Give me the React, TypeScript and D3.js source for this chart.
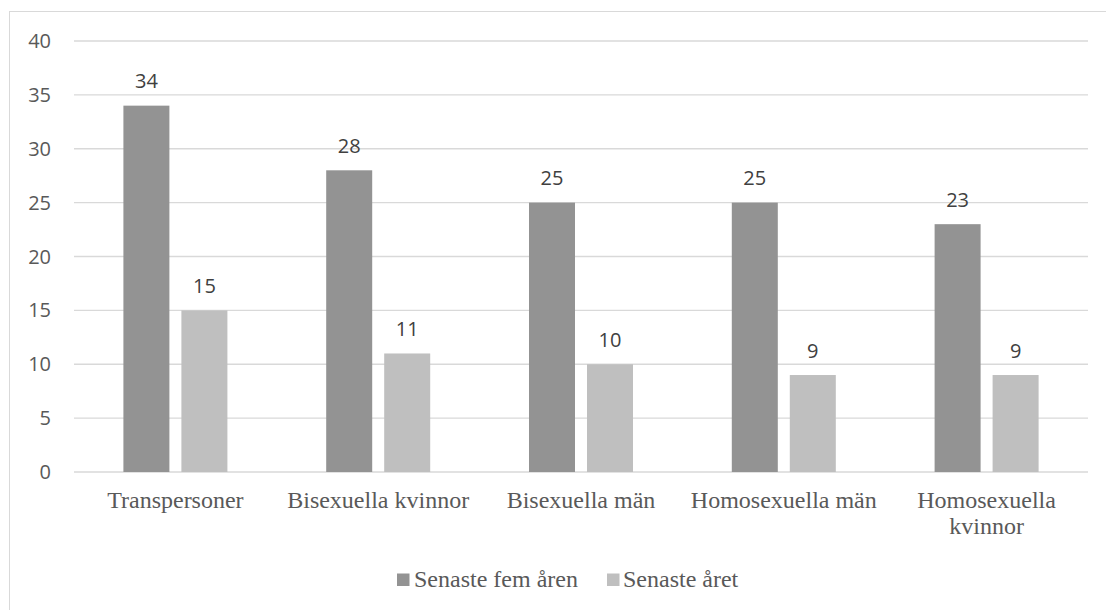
import React from "react";
import * as d3 from "d3";

const categories: string[][] = [
  ["Transpersoner"],
  ["Bisexuella kvinnor"],
  ["Bisexuella män"],
  ["Homosexuella män"],
  ["Homosexuella", "kvinnor"],
];
const seriesNames = ["Senaste fem åren", "Senaste året"];
const fiveYears = [34, 28, 25, 25, 23];
const lastYear = [15, 11, 10, 9, 9];
const yTicks = [0, 5, 10, 15, 20, 25, 30, 35, 40];
const colors = ["#939393", "#bfbfbf"];

export default function App() {
  const W = 1106, H = 610;
  const left = 74, right = 1088, top = 41, bottom = 472;
  const y = d3.scaleLinear().domain([0, 40]).range([bottom, top]);
  const x0 = d3.scaleBand<number>().domain(d3.range(categories.length)).range([left, right]).padding(0);
  const barW = 46, gap = 12;
  const series = [fiveYears, lastYear];
  const numFont = "'Open Sans', sans-serif";
  const serif = "'Liberation Serif', 'Times New Roman', serif";
  return (
    <svg width={W} height={H} style={{ position: "absolute", left: 0, top: 0 }}>
      <rect x={0} y={0} width={W} height={H} fill="#fff" />
      <rect x={9.5} y={11.5} width={W + 20} height={H + 20} fill="none" stroke="#d9d9d9" strokeWidth={1} />
      {yTicks.map((t) => (
        <g key={t}>
          <line x1={left} x2={right} y1={y(t)} y2={y(t)} stroke="#d9d9d9" strokeWidth={1.3} />
          <text x={51} y={y(t)} dy="0.35em" textAnchor="end" fontFamily={numFont} fontSize={20} fill="#595959">
            {t}
          </text>
        </g>
      ))}
      {categories.map((cat, i) => {
        const cx = (x0(i) as number) + x0.bandwidth() / 2;
        return (
          <g key={i}>
            {series.map((s, j) => {
              const bx = j === 0 ? cx - gap / 2 - barW : cx + gap / 2;
              return (
                <g key={j}>
                  <rect x={bx} y={y(s[i])} width={barW} height={y(0) - y(s[i])} fill={colors[j]} />
                  <text x={bx + barW / 2} y={y(s[i]) - 17.5} textAnchor="middle" fontFamily={numFont} fontSize={20} fill="#404040">
                    {s[i]}
                  </text>
                </g>
              );
            })}
            <text x={cx} y={508} textAnchor="middle" fontFamily={serif} fontSize={24} fill="#595959">
              {cat.map((l, k) => (
                <tspan key={k} x={cx} dy={k === 0 ? 0 : 26}>
                  {l}
                </tspan>
              ))}
            </text>
          </g>
        );
      })}
      <g>
        <rect x={397} y={573.5} width={12.5} height={12.5} fill={colors[0]} />
        <text x={414} y={587} fontFamily={serif} fontSize={24} fill="#595959">{seriesNames[0]}</text>
        <rect x={607} y={573.5} width={12.5} height={12.5} fill={colors[1]} />
        <text x={623} y={587} fontFamily={serif} fontSize={24} fill="#595959">{seriesNames[1]}</text>
      </g>
    </svg>
  );
}
